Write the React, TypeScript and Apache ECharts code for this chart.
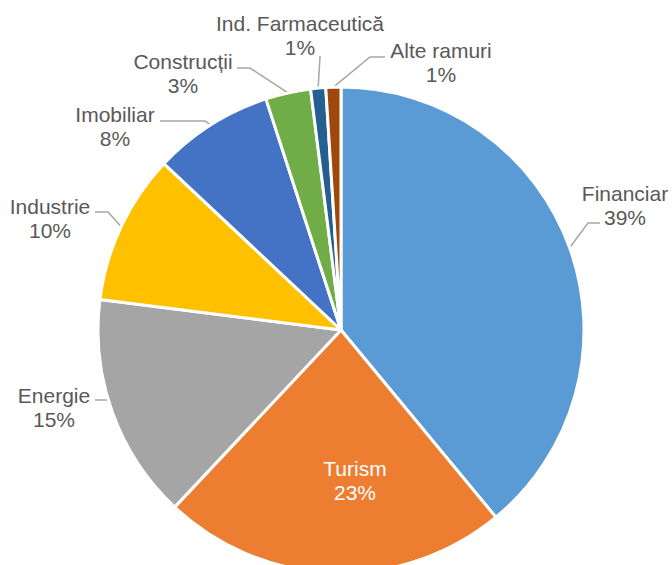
import React, { useEffect, useRef } from "react";
import * as echarts from "echarts";

const categories = [
  "Financiar",
  "Turism",
  "Energie",
  "Industrie",
  "Imobiliar",
  "Construcții",
  "Ind. Farmaceutică",
  "Alte ramuri",
];
const shares = [39, 23, 15, 10, 8, 3, 1, 1];
const colors = ["#5B9BD5", "#ED7D31", "#A5A5A5", "#FFC000", "#4472C4", "#70AD47", "#255E91", "#9E480E"];

// label placement (px): block centre, leader elbow, leader end
const labelCenters: number[][] = [
  [625, 205], [355, 480], [54, 407], [50, 218], [115, 126], [183, 73], [300, 35], [441, 62],
];
const guideElbows: (number[] | null)[] = [
  [588, 223], null, [108, 400], [108, 212], [205, 121], [250, 68], [320, 57], [370, 57],
];
const guideEnds: (number[] | null)[] = [
  [600, 223], null, [95, 400], [95, 212], [160, 121], [237, 68], [320, 56], [385, 57],
];

export default function App() {
  const ref = useRef<HTMLDivElement>(null);
  useEffect(() => {
    if (!ref.current) return;
    const chart = echarts.init(ref.current, null, { renderer: "svg" });
    const data = categories.map((name, i) => {
      const inside = guideElbows[i] === null;
      return {
        name,
        value: shares[i],
        itemStyle: { color: colors[i] },
        label: inside
          ? { position: "inside", color: "#FFFFFF" }
          : { position: "outside", color: "#595959" },
        labelLine: { show: !inside },
      };
    });
    chart.setOption({
      animation: false,
      backgroundColor: "#FFFFFF",
      series: [
        {
          type: "pie",
          center: [341, 330],
          radius: [0, 243],
          startAngle: 90,
          clockwise: true,
          avoidLabelOverlap: false,
          itemStyle: { borderColor: "#FFFFFF", borderWidth: 3 },
          label: {
            formatter: "{b}\n{c}%",
            fontFamily: "Liberation Sans, Arial, sans-serif",
            fontSize: 21,
            lineHeight: 24,
            align: "center",
          },
          labelLine: {
            lineStyle: { color: "#A6A6A6", width: 1.5 },
            length: 15,
            length2: 12,
          },
          labelLayout: (params: any) => {
            const i = params.dataIndex;
            const res: any = {
              x: labelCenters[i][0],
              y: labelCenters[i][1],
              align: "center",
              verticalAlign: "middle",
            };
            const elbow = guideElbows[i];
            const end = guideEnds[i];
            if (elbow && end && params.labelLinePoints) {
              const anchor = params.labelLinePoints[0];
              res.labelLinePoints = [[anchor[0], anchor[1]], elbow, end];
            }
            return res;
          },
          data,
        },
      ],
    });
    return () => chart.dispose();
  }, []);
  return (
    <div
      ref={ref}
      style={{ position: "absolute", left: 0, top: 0, width: 672, height: 565 }}
    />
  );
}
